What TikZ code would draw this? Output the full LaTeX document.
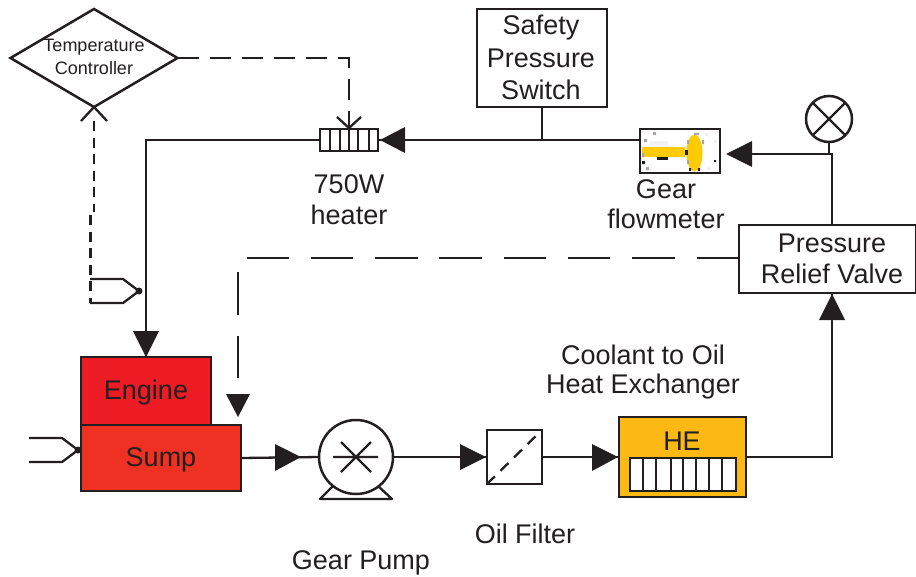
\documentclass[tikz,border=0pt]{standalone}
\usepackage{fontspec}
\setmainfont{Liberation Sans}
\usetikzlibrary{shapes.geometric}
\definecolor{ink}{HTML}{231F20}
\definecolor{enginered}{HTML}{ED1C24}
\definecolor{sumpred}{HTML}{EF3124}
\definecolor{heorange}{HTML}{FDB913}
\definecolor{flowyellow}{HTML}{FFCB05}
\tikzset{
  line/.style={draw=ink,line width=2.3pt},
  dashline/.style={draw=ink,line width=2.3pt,dash pattern=on 21pt off 11pt},
  longdash/.style={draw=ink,line width=2.3pt,dash pattern=on 42.5pt off 21.8pt},
  shortdash/.style={draw=ink,line width=2.3pt,dash pattern=on 10pt off 6.5pt},
  box/.style={draw=ink,line width=2.5pt,inner sep=0pt,outer sep=0pt,minimum width=#1},
  lbl/.style={font=\fontsize{27}{32}\selectfont,text=ink,inner sep=0pt,align=center,anchor=center},
  small/.style={font=\fontsize{18}{22}\selectfont,text=ink,inner sep=0pt,align=center},
}
\begin{document}
\begin{tikzpicture}[x=1pt,y=-1pt]
\useasboundingbox (0,0) rectangle (916,576);
% Nodes
\node[diamond,aspect=1.7,draw=ink,line width=2.5pt,minimum width=167pt,minimum height=98pt,inner sep=0pt,outer sep=0pt] (ctrl) at (94,58) {};
\node[small] (ctrlT) at (94,47) {Temperature};
\node[small] (ctrlC) at (94,68) {Controller};
\node[box=58pt,minimum height=22pt] (heater) at (349,140) {};
\foreach \x in {330,340,349,358,369} \draw[line,line width=2pt] (\x,129) -- (\x,151);
\node[box=130pt,minimum height=98pt] (safety) at (542,58) {};
\node[lbl] (s1) at (541,28) {Safety};
\node[lbl] (s2) at (541,58) {Pressure};
\node[lbl] (s3) at (541,90) {Switch};
\node[box=80pt,minimum height=44pt] (flow) at (680,151) {};
\fill[flowyellow] (642,147) rectangle (685,157);
\fill[flowyellow] (694.5,153) ellipse [x radius=8, y radius=18.5];
\fill[ink] (685,150) rectangle (688,155);
\fill[ink!85!black] (657,157) rectangle (668,160);
\fill[ink] (642,161) rectangle (645,164) (714,160) rectangle (716,162) (689,168) rectangle (691,171) (698,168) rectangle (700,171);
\fill[gray!70] (653,132) rectangle (656,135) (644,139) rectangle (647,142) (646,167) rectangle (649,170) (694,133) rectangle (699,135) (687,140) rectangle (689,144) (702,140) rectangle (704,144) (687,160) rectangle (689,164) (642,153) rectangle (644,157);
\fill[gray!12] (650,141) rectangle (668,145) (705,133) rectangle (708,136) (714,140) rectangle (717,143) (707,167) rectangle (710,170);
\node[draw=ink,line width=2.5pt,circle,minimum size=46pt,inner sep=0pt,outer sep=0pt] (gauge) at (829,119) {};
\draw[line] (gauge.north east) -- (gauge.south west) (gauge.north west) -- (gauge.south east);
\node[box=177pt,minimum height=68pt,fill=white] (prv) at (827.5,259) {};
\node[lbl] (p1) at (832,243) {Pressure};
\node[lbl] (p2) at (832,274) {Relief Valve};
\node[box=130pt,minimum height=68pt,fill=enginered] (engine) at (146,391) {};
\node[lbl] (en) at (146,392.5) {Engine};
\node[box=160pt,minimum height=66pt,fill=sumpred] (sump) at (161,458) {};
\node[lbl] (su) at (161,459.5) {Sump};
\node[draw=ink,line width=2.5pt,circle,minimum size=74pt,inner sep=0pt,outer sep=0pt] (pump) at (356,457) {};
\draw[line,line join=round] (333,486) -- (320,499) -- (392,499) -- (378,486);
\draw[line] (333,457) -- (378,457) (341,442) -- (371,472) (341,472) -- (371,442);
\node[box=55pt,minimum height=54pt] (filter) at (514.5,457) {};
\draw[draw=ink,line width=2.3pt,dash pattern=on 11pt off 8pt] (filter.south west) -- (filter.north east);
\node[box=127pt,minimum height=80pt,fill=heorange] (he) at (682.5,457) {};
\node[lbl] (het) at (682,441) {HE};
\node[box=106pt,minimum height=33pt,fill=white] (hec) at (683,474.5) {};
\foreach \x in {643,656,671,683,696,709,722} \draw[line] (\x,458) -- (\x,491);
% Free labels
\node[lbl] (l1) at (349,184) {750W};
\node[lbl] (l2) at (349,215) {heater};
\node[lbl] (l3) at (666,189) {Gear};
\node[lbl] (l4) at (666,219) {flowmeter};
\node[lbl] (l5) at (643,355) {Coolant to Oil};
\node[lbl] (l6) at (643,387) {Heat Exchanger};
\node[lbl] (l7) at (525,534) {Oil Filter};
\node[lbl] (l8) at (361,562.5) {Gear Pump};
% Solid lines
\draw[line] (heater.west) -- (146,140) -- (engine.north);
\fill[ink] (146,357) -- (133,331) -- (159,331) -- cycle;
\draw[line] (flow.west |- 0,140) -- (heater.east |- 0,140);
\fill[ink] (380,140) -- (405,127) -- (405,153) -- cycle;
\draw[line] (safety.south) -- (safety.south |- 0,140);
\draw[line] (prv.north -| 832,0) -- (832,154) -- (752,154);
\draw[line] (gauge.south) -- (829,154);
\fill[ink] (726,154) -- (752,141) -- (752,167) -- cycle;
\draw[line] (sump.east |- 0,458) -- (pump.west);
\fill[ink] (301,457) -- (275,444) -- (275,471) -- cycle;
\draw[line] (pump.east) -- (filter.west);
\fill[ink] (486,457) -- (460,444) -- (460,470) -- cycle;
\draw[line] (filter.east) -- (he.west);
\fill[ink] (618,457) -- (592,444) -- (592,471) -- cycle;
\draw[line] (he.east) -- (832,457) -- (prv.south -| 832,0);
\fill[ink] (832,294) -- (819,320) -- (845,320) -- cycle;
% Dashed lines
\draw[dashline] (ctrl.east) -- (349,58) -- (349,127);
\draw[line] (337,117) -- (349,128) -- (361,117);
\coordinate (hend) at (247,258);
\coordinate (vstart) at (238,272);
\coordinate (vend) at (238,378);
\draw[longdash] (prv.west |- 0,258) -- (hend);
\draw[longdash] (vstart) -- (vend);
\fill[ink] (238,417) -- (226,394) -- (250,394) -- cycle;
\coordinate (bend) at (94,121);
\draw[shortdash] (bend) -- (94,212) (90.5,215) -- (90.5,303);
\draw[line] (81,121) -- (94,107) -- (107,121);
% Thermocouples
\draw[line] (90,279) -- (123,279) -- (139,291) -- (123,303) -- (90,303);
\fill[ink] (139,291) circle (3.5pt);
\draw[line] (29,438) -- (62,438) -- (78,450) -- (62,462) -- (29,462);
\fill[ink] (78,450) circle (3.5pt);
\end{tikzpicture}
\end{document}
